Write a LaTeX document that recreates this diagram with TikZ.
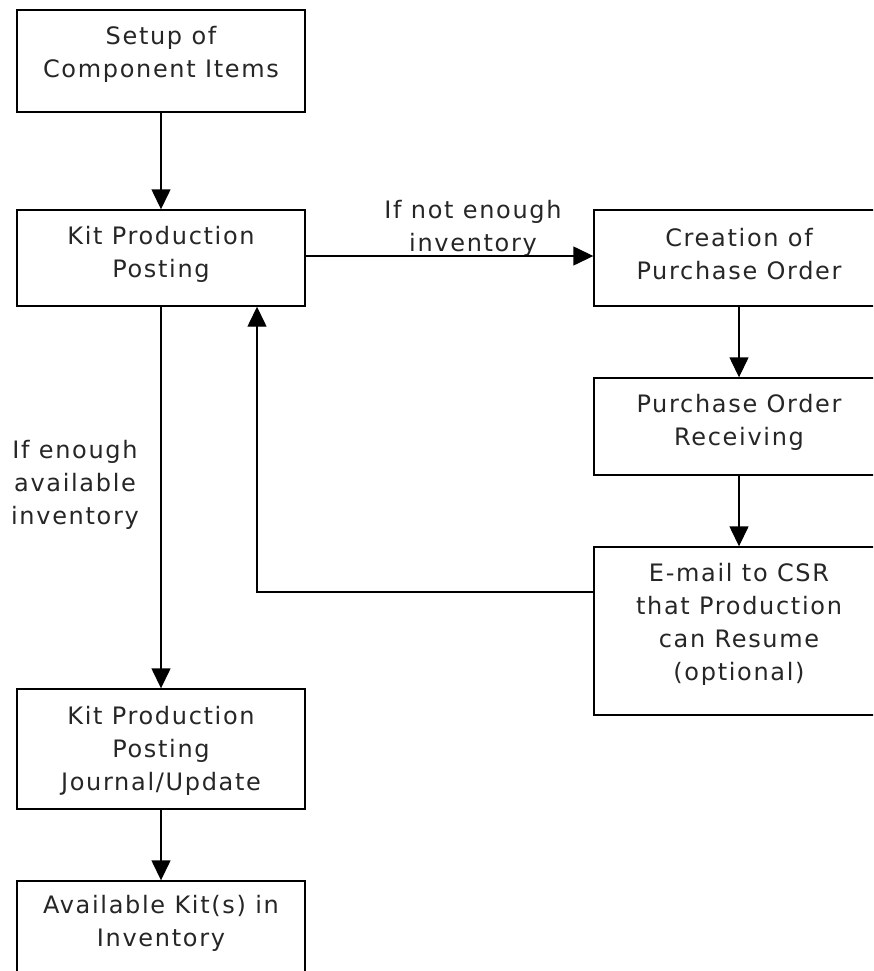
\documentclass[tikz,border=0pt]{standalone}
\usepackage{fontspec}
\setmainfont{DejaVu Sans}[LetterSpace=7]
\usetikzlibrary{arrows.meta}
\tikzset{
  box/.style={draw=black, line width=1.4pt, rectangle, inner sep=0pt},
  lbl/.style={align=center, inner sep=0pt, font=\fontsize{24}{33}\selectfont, text=black!85},
  arr/.style={draw=black, line width=1.4pt, -{Triangle[length=20pt,width=19pt]}},
  con/.style={draw=black, line width=1.4pt}
}
\begin{document}
\begin{tikzpicture}[x=1pt,y=-1pt]
\fill[white] (0,0) rectangle (873,971);
\useasboundingbox (0,0) rectangle (873,971);
\clip (0,0) rectangle (873,971);
% boxes
\node[box, minimum width=288pt, minimum height=102pt] (setup) at (161,61) {};
\node[box, minimum width=288pt, minimum height=96pt] (kpp) at (161,258) {};
\node[box, minimum width=290pt, minimum height=96pt] (cpo) at (739,258) {};
\node[box, minimum width=290pt, minimum height=97pt] (por) at (739,426.5) {};
\node[box, minimum width=290pt, minimum height=168pt] (email) at (739,631) {};
\node[box, minimum width=288pt, minimum height=120pt] (journal) at (161,749) {};
\node[box, minimum width=288pt, minimum height=139pt] (avail) at (161,950.5) {};
% texts
\node[lbl] (tsetup) at (161,54) {Setup of\\Component Items};
\node[lbl] (tkpp) at (161,254) {Kit Production\\Posting};
\node[lbl] (tcpo) at (739,254) {Creation of\\Purchase Order};
\node[lbl] (tpor) at (739,422) {Purchase Order\\Receiving};
\node[lbl] (temail) at (739,624) {E-mail to CSR\\that Production\\can Resume\\(optional)};
\node[lbl] (tjournal) at (161,751) {Kit Production\\Posting\\Journal/Update};
\node[lbl] (tavail) at (161,923) {Available Kit(s) in\\Inventory};
\node[lbl] (lnot) at (473,228) {If not enough\\inventory};
\node[lbl] (lenough) at (75,485) {If enough\\available\\inventory};
% connectors
\draw[arr] (setup.south) -- (kpp.north);
\coordinate (h) at (305,256);
\draw[arr] (h) -- (h -| cpo.west);
\draw[arr] (cpo.south) -- (por.north);
\draw[arr] (por.south) -- (email.north);
\draw[arr] (kpp.south) -- (journal.north);
\draw[arr] (journal.south) -- (avail.north);
\coordinate (ret) at (257,592);
\draw[arr] (ret -| email.west) -- (ret) -- (ret |- kpp.south);
\end{tikzpicture}
\end{document}
